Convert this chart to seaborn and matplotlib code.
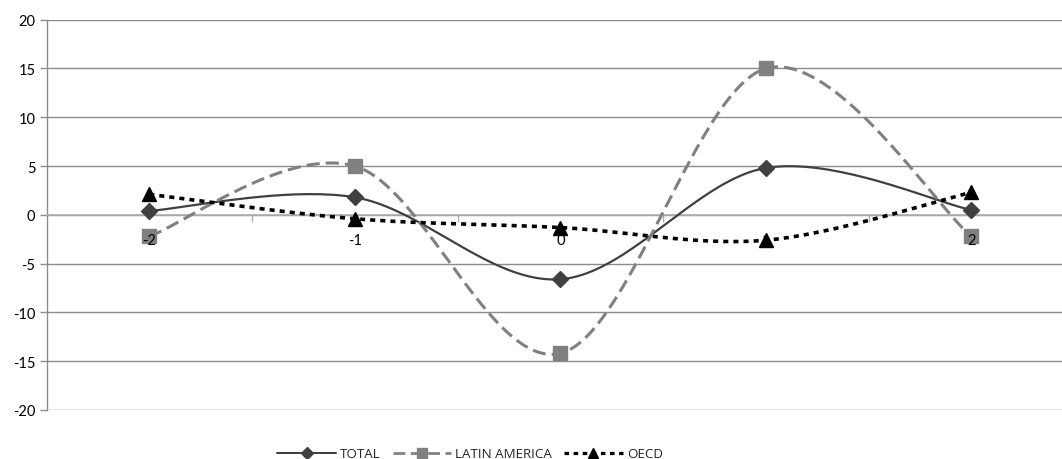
import numpy as np
import pandas as pd
import matplotlib
matplotlib.use("Agg")
import matplotlib.pyplot as plt
import seaborn as sns
from matplotlib.lines import Line2D

categories = ["-2", "-1", "0", "1", "2"]
total = [0.4, 1.8, -6.6, 4.8, 0.5]
latin_america = [-2.2, 5.0, -14.2, 15.0, -2.2]
oecd = [2.1, -0.4, -1.3, -2.6, 2.3]
series_names = ["TOTAL", "LATIN AMERICA", "OECD"]
y_ticks = [-20, -15, -10, -5, 0, 5, 10, 15, 20]

sns.set_theme(style="white")
plt.rcParams['font.family'] = ['Lato', 'DejaVu Sans']


def smooth(xs, ys, n=40):
    # Excel-like smoothed line: cubic Bezier segments with Catmull-Rom control points
    P = np.column_stack([xs, ys]).astype(float)
    m = len(P)
    out = []
    for i in range(m - 1):
        p0 = P[i - 1] if i > 0 else P[i]
        p1 = P[i]
        p2 = P[i + 1]
        p3 = P[i + 2] if i + 2 < m else P[i + 1]
        c1 = p1 + (p2 - p0) / 6.0
        c2 = p2 - (p3 - p1) / 6.0
        t = np.linspace(0, 1, n)[:, None]
        seg = ((1 - t) ** 3) * p1 + 3 * ((1 - t) ** 2) * t * c1 + 3 * (1 - t) * t ** 2 * c2 + t ** 3 * p2
        out.append(seg if i == 0 else seg[1:])
    return np.vstack(out)


xpos = np.arange(len(categories))
fig = plt.figure(figsize=(10.62, 4.60), dpi=100)
ax = fig.add_axes([46.5 / 1062, 1 - 411 / 460, 1027.5 / 1062, 390.3 / 460])

styles = {
    "TOTAL": dict(color="#404040", lw=1.6, dashes=(None, None), marker="D", ms=8, mc="#404040"),
    "LATIN AMERICA": dict(color="#808080", lw=2.2, dashes=(4.3, 2.0), marker="s", ms=9.5, mc="#808080"),
    "OECD": dict(color="#000000", lw=2.6, dashes=(1.4, 1.4), marker="^", ms=10, mc="#000000"),
}

frames = []
for name, vals in zip(series_names, [total, latin_america, oecd]):
    c = smooth(xpos, vals)
    frames.append(pd.DataFrame({"x": c[:, 0], "y": c[:, 1], "series": name, "order": np.arange(len(c))}))
curves = pd.concat(frames, ignore_index=True)

for name, vals in zip(series_names, [total, latin_america, oecd]):
    st = styles[name]
    sub = curves[curves.series == name]
    sns.lineplot(data=sub, x="x", y="y", sort=False, estimator=None, ax=ax,
                 color=st["color"], lw=st["lw"], zorder=3, legend=False)
    line = ax.lines[-1]
    if st["dashes"][0] is not None:
        line.set_dashes(st["dashes"])
        line.set_dash_capstyle("butt")
    pts = pd.DataFrame({"x": xpos, "y": vals})
    ax.plot(pts.x, pts.y, ls="none", marker=st["marker"], ms=st["ms"],
            mfc=st["mc"], mec=st["mc"], zorder=4)

ax.set_xlim(-0.5, len(categories) - 0.5)
ax.set_ylim(-20, 20)
ax.set_yticks(y_ticks)
ax.set_yticklabels([str(v) for v in y_ticks], fontsize=10.5, color="#000000")
ax.yaxis.grid(True, color="#8c8c8c", lw=1.0)
ax.set_axisbelow(True)

for s in ["top", "right"]:
    ax.spines[s].set_visible(False)
ax.spines["left"].set_color("#8c8c8c")
ax.spines["left"].set_linewidth(1.0)
ax.spines["bottom"].set_position(("data", 0))
ax.spines["bottom"].set_color("#b0b0b0")
ax.spines["bottom"].set_linewidth(1.2)
ax.tick_params(axis="y", length=5, color="#8c8c8c", width=1.0, pad=3, left=True)

ax.set_xticks(xpos)
ax.set_xticklabels([])
ax.set_xticks(xpos[:-1] + 0.5, minor=True)
ax.tick_params(axis="x", which="major", length=0, bottom=True)
ax.tick_params(axis="x", which="minor", length=5, color="#b0b0b0", width=1.0, bottom=True, direction="out")
for x, lab in zip(xpos, categories):
    ax.text(x, -2.6, lab, ha="center", va="center", fontsize=10.5, color="#000000", zorder=6)
ax.set_xlabel("")
ax.set_ylabel("")

handles = []
for name in series_names:
    st = styles[name]
    h = Line2D([0], [0], color=st["color"], lw=st["lw"] * 0.9, marker=st["marker"],
               ms=st["ms"] * 0.75, mfc=st["mc"], mec=st["mc"])
    if st["dashes"][0] is not None:
        h.set_dashes(st["dashes"])
    handles.append(h)
fig.legend(handles, series_names, loc="center", bbox_to_anchor=(470 / 1062, 1 - 455 / 460),
           ncol=3, frameon=False, handlelength=4.4, columnspacing=0.9,
           handletextpad=0.3, borderaxespad=0,
           prop={"family": ["Open Sans", "DejaVu Sans"], "size": 9.6})

fig.savefig("out.png", dpi=100)
